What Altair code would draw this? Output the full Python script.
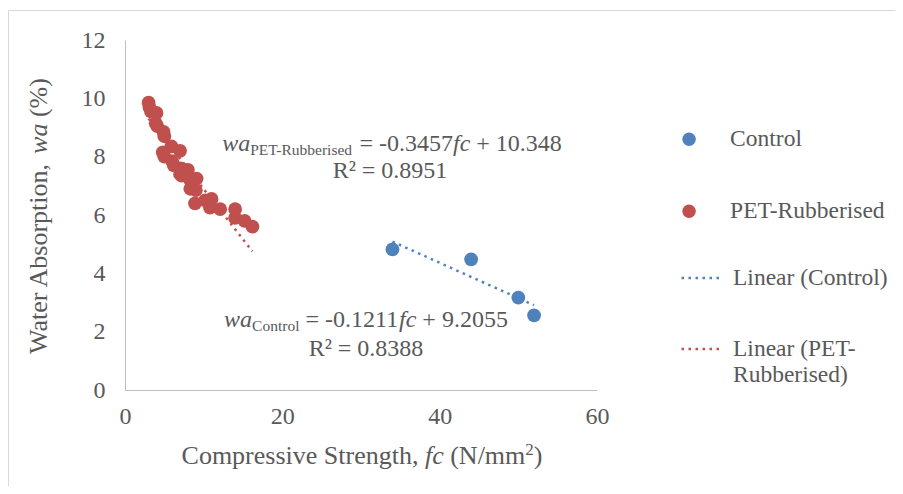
import altair as alt
import pandas as pd

# ---------------- data ----------------
control_fc = [34.0, 44.0, 50.0, 52.0]
control_wa = [4.82, 4.48, 3.17, 2.56]

pet_fc = [3.0, 3.1, 3.3, 4.0, 3.9, 4.1, 4.9, 5.0, 4.8, 5.0, 5.9, 6.0, 7.0, 6.2,
          7.1, 7.0, 8.0, 7.2, 8.3, 9.1, 8.3, 9.0, 8.9, 10.2, 11.0, 10.8, 12.1,
          14.0, 14.0, 15.2, 16.2]
pet_wa = [9.85, 9.7, 9.55, 9.5, 9.15, 9.05, 8.85, 8.7, 8.15, 8.0, 8.35, 7.85,
          8.2, 7.7, 7.6, 7.4, 7.55, 7.35, 7.2, 7.25, 6.9, 6.85, 6.4, 6.5, 6.55,
          6.25, 6.2, 6.2, 5.9, 5.8, 5.6]

# trendline equations printed on the chart: wa = slope * fc + intercept
control_fit = [-0.1211, 9.2055]
pet_fit = [-0.3457, 10.348]

point_names = ["Control", "PET-Rubberised"]
line_names = ["Linear (Control)", "Linear (PET-Rubberised)"]
x_ticks = [0, 20, 40, 60]
y_ticks = [0, 2, 4, 6, 8, 10, 12]

BLUE = "#4F81BD"
RED = "#C0504D"
GREY = "#595959"
AXIS_GREY = "#BFBFBF"
FONT = "Liberation Serif"
DASH = [2.5, 4.5]

pts = pd.DataFrame({
    "series": [point_names[0]] * len(control_fc) + [point_names[1]] * len(pet_fc),
    "fc": control_fc + pet_fc,
    "wa": control_wa + pet_wa,
})


def trend_rows(name, xs, fit):
    lo, hi = min(xs), max(xs)
    return pd.DataFrame([{"series": name, "fc": v, "wa": fit[0] * v + fit[1]} for v in (lo, hi)])


trend_c = trend_rows(line_names[0], control_fc, control_fit)
trend_p = trend_rows(line_names[1], pet_fc, pet_fit)

# ---------------- layout ----------------
W, H = 472, 350
OX, OY = 125, 40          # page position of the plot origin
PAD = {"left": OX - 8, "top": OY - 8, "right": 887 - (OX - 8) - W, "bottom": 478 - (OY - 8) - H}

leg_common = dict(title=None, orient="none", padding=0, direction="vertical",
                  labelFont=FONT, labelFontSize=23.5, labelColor=GREY, labelLimit=300)

x_axis = alt.Axis(values=x_ticks, title=None, grid=False, ticks=False, domainColor=AXIS_GREY,
                  labelFont=FONT, labelFontSize=24, labelColor=GREY, labelPadding=14,
                  labelFlush=False)
y_axis = alt.Axis(values=y_ticks, title=None, grid=False, ticks=False, domainColor=AXIS_GREY,
                  labelFont=FONT, labelFontSize=24, labelColor=GREY, labelPadding=20)
xs = alt.Scale(domain=[0, 60], nice=False)
ys = alt.Scale(domain=[0, 12], nice=False)
X = alt.X("fc:Q", scale=xs, axis=x_axis)
Y = alt.Y("wa:Q", scale=ys, axis=y_axis)

points = alt.Chart(pts).mark_circle(size=190, opacity=1).encode(
    x=X, y=Y,
    fill=alt.Fill("series:N", scale=alt.Scale(domain=point_names, range=[BLUE, RED]),
                  legend=alt.Legend(legendX=552.3, legendY=87.5, rowPadding=47,
                                    symbolType="circle", symbolSize=180, symbolStrokeWidth=0,
                                    labelOffset=29.3, **leg_common)),
)
line_c = alt.Chart(trend_c).mark_line(strokeWidth=2.5, strokeDash=DASH).encode(
    x=X, y=Y,
    stroke=alt.Stroke("series:N", scale=alt.Scale(domain=[line_names[0]], range=[BLUE]),
                      legend=alt.Legend(legendX=555, legendY=215.5, symbolType="stroke",
                                        symbolSize=1764, symbolStrokeWidth=2.5, symbolDash=DASH,
                                        labelOffset=8, **leg_common)),
)
line_p = alt.Chart(trend_p).mark_line(strokeWidth=2.5, stroke=RED).encode(
    x=X, y=Y,
    strokeDash=alt.StrokeDash("series:N", scale=alt.Scale(domain=[line_names[1]], range=[DASH]),
                              legend=alt.Legend(legendX=555, legendY=286.5, symbolType="stroke",
                                                symbolSize=1764, symbolStrokeWidth=2.5,
                                                symbolStrokeColor=RED, labelOffset=8,
                                                labelExpr="['Linear (PET-', 'Rubberised)']",
                                                **leg_common)),
)

ONE = pd.DataFrame({"k": [0]})
border = alt.Chart(ONE).mark_rect(filled=False, stroke="#D9D9D9", strokeWidth=1).encode(
    x=alt.value(8.5 - OX), x2=alt.value(1000), y=alt.value(10.5 - OY), y2=alt.value(600))

# ---------------- rich text (Times metrics) ----------------
REG = {" ": 250, ",": 250, "-": 333, ".": 250, "/": 278, "(": 333, ")": 333, "%": 833,
       "=": 564, "+": 564, "²": 300, "A": 722, "C": 667, "E": 611, "N": 722, "P": 556,
       "R": 667, "S": 556, "T": 611, "W": 944, "a": 444, "b": 500, "c": 444, "d": 500,
       "e": 444, "f": 333, "g": 500, "h": 500, "i": 278, "l": 278, "m": 778, "n": 500,
       "o": 500, "p": 500, "r": 333, "s": 389, "t": 278, "u": 500, "v": 500, "w": 722}
ITA = {"f": 278, "c": 444, "w": 667, "a": 500}


def wid(s, size, italic=False):
    tbl = ITA if italic else REG
    return sum(tbl.get(ch, REG.get(ch, 500)) for ch in s) * size / 1000.0


def rich(segs, center, base, angle=0):
    total = sum(wid(t, sz, it) for t, sz, it, sh in segs)
    pos = -total / 2
    out = []
    for t, sz, it, sh in segs:
        lead = len(t) - len(t.lstrip())
        p = pos + wid(t[:lead], sz, it)
        if angle == 0:
            x, y = center + p, base + sh
        else:
            x, y = base + sh, center - p
        props = dict(align="left", baseline="alphabetic", font=FONT, fontSize=sz,
                     color=GREY, angle=angle)
        if it:
            props["fontStyle"] = "italic"
        out.append(alt.Chart(ONE).mark_text(**props).encode(
            x=alt.value(x - OX), y=alt.value(y - OY), text=alt.value(t.strip())))
        pos += wid(t, sz, it)
    return out


texts = []
texts += rich([("wa", 24, True, 0), ("PET-Rubberised", 15.5, False, 4),
               (" = -0.3457", 24, False, 0), ("fc", 24, True, 0), (" + 10.348", 24, False, 0)],
              392, 151)
texts += rich([("R² = 0.8951", 24, False, 0)], 390, 178)
texts += rich([("wa", 24, True, 0), ("Control", 15.5, False, 4),
               (" = -0.1211", 24, False, 0), ("fc", 24, True, 0), (" + 9.2055", 24, False, 0)],
              366, 327)
texts += rich([("R² = 0.8388", 24, False, 0)], 366, 356)
texts += rich([("Compressive Strength, ", 26, False, 0), ("fc", 26, True, 0),
               (" (N/mm", 26, False, 0), ("2", 17, False, -9), (")", 26, False, 0)],
              362, 464)
texts += rich([("Water Absorption, ", 26, False, 0), ("wa", 26, True, 0), (" (%)", 26, False, 0)],
              216, 47, angle=270)

chart = alt.layer(border, points, line_c, line_p, *texts).properties(
    width=W, height=H, padding=PAD, autosize=alt.AutoSizeParams(type="none"),
    background="white",
).resolve_scale(fill="independent", stroke="independent", strokeDash="independent"
).configure_view(stroke=None)

chart.save("out.html", embed_options={"renderer": "svg", "actions": False})
